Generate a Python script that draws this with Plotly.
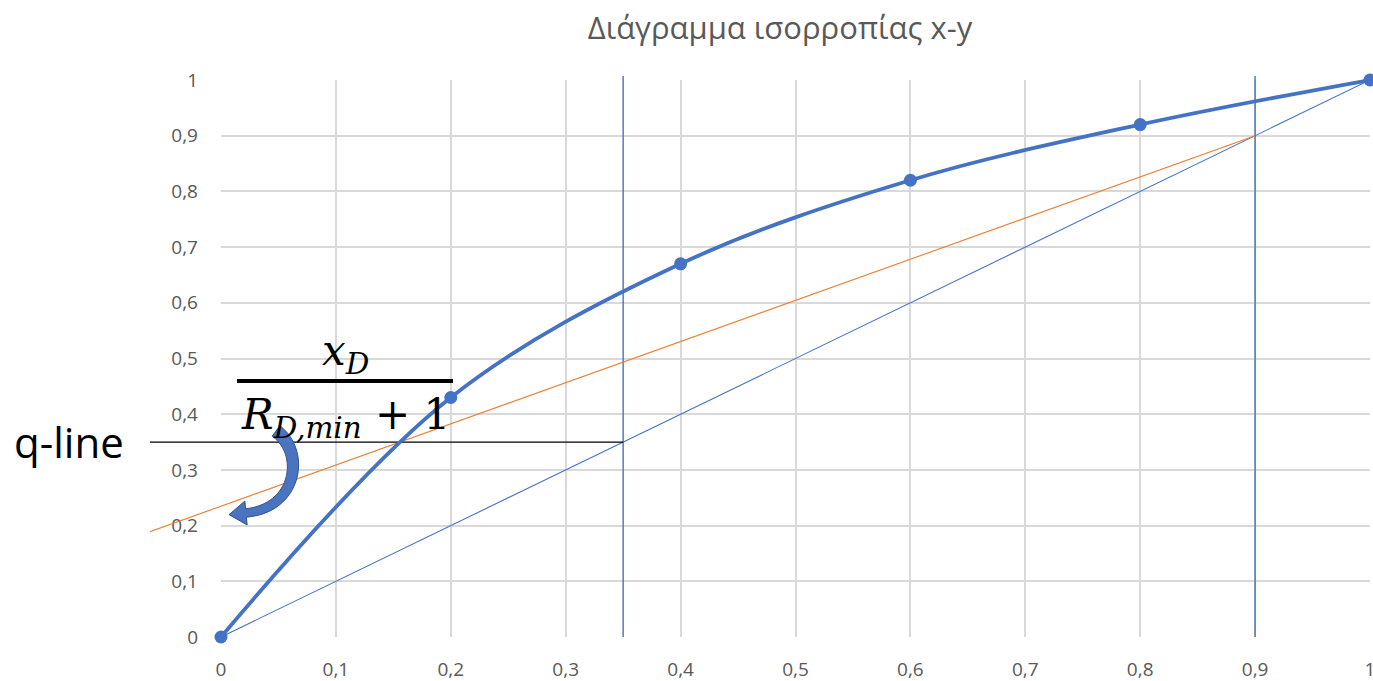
import plotly.graph_objects as go
import numpy as np

# ---------------- data ----------------
eq_x = [0, 0.2, 0.4, 0.6, 0.8, 1.0]
eq_y = [0, 0.43, 0.67, 0.82, 0.92, 1.0]
diag_x = [0, 1]
diag_y = [0, 1]
oper_x = [-0.062, 0.9]
oper_y = [0.189, 0.9]
q_x = [-0.062, 0.35]
q_y = [0.35, 0.35]
feed_x = [0.35, 0.35]
feed_y = [0, 1.007]
dist_x = [0.9, 0.9]
dist_y = [0, 1.007]
tick_vals = [0, 0.1, 0.2, 0.3, 0.4, 0.5, 0.6, 0.7, 0.8, 0.9, 1]
tick_text = ["0", "0,1", "0,2", "0,3", "0,4", "0,5", "0,6", "0,7", "0,8", "0,9", "1"]
title_text = "Διάγραμμα ισορροπίας x-y"

# ---------------- geometry ----------------
W_FIG, H_FIG = 1373, 681
L, T, R, B = 150, 76, 3, 44
PW, PH = W_FIG - L - R, H_FIG - T - B


def px(xr):  # reference pixel -> paper x
    return (xr - L) / PW


def py(yr):  # reference pixel -> paper y
    return (T + PH - yr) / PH


def dx(xr):  # reference pixel -> x2 data
    return (xr - 221) / 1149


def dy(yr):  # reference pixel -> y2 data
    return (637 - yr) / 557


BLUE = "#4472C4"
GRID = "#d9d9d9"
TXT = "#595959"

fig = go.Figure()

# invisible trace on main axes so they render
fig.add_trace(go.Scatter(x=[0, 1], y=[0, 1], mode="markers", marker=dict(opacity=0),
                         hoverinfo="skip", showlegend=False, xaxis="x", yaxis="y"))

common = dict(xaxis="x2", yaxis="y2", showlegend=False, hoverinfo="skip")
fig.add_trace(go.Scatter(x=diag_x, y=diag_y, mode="lines", line=dict(color=BLUE, width=1.1), **common))
fig.add_trace(go.Scatter(x=feed_x, y=feed_y, mode="lines", line=dict(color=BLUE, width=1.4), **common))
fig.add_trace(go.Scatter(x=dist_x, y=dist_y, mode="lines", line=dict(color=BLUE, width=1.4), **common))
fig.add_trace(go.Scatter(x=oper_x, y=oper_y, mode="lines", line=dict(color="#ED7D31", width=1.1), **common))
fig.add_trace(go.Scatter(x=q_x, y=q_y, mode="lines", line=dict(color="black", width=1.2), **common))
fig.add_trace(go.Scatter(x=eq_x, y=eq_y, mode="lines+markers",
                         line=dict(color=BLUE, width=3.8, shape="spline", smoothing=1),
                         marker=dict(color=BLUE, size=13), cliponaxis=False, **common))

# ---------------- curved arrow ----------------
P0 = np.array([276.0, 431.0]); P1 = np.array([305.0, 452.0])
P2 = np.array([298.0, 508.0]); P3 = np.array([246.0, 513.0])
ts = np.linspace(0, 1, 40)
pts = []
nrm = []
for t in ts:
    p = (1 - t) ** 3 * P0 + 3 * (1 - t) ** 2 * t * P1 + 3 * (1 - t) * t ** 2 * P2 + t ** 3 * P3
    d = 3 * (1 - t) ** 2 * (P1 - P0) + 6 * (1 - t) * t * (P2 - P1) + 3 * t ** 2 * (P3 - P2)
    d = d / np.linalg.norm(d)
    pts.append(p)
    nrm.append(np.array([-d[1], d[0]]))
widths = np.linspace(6.5, 4.2, len(ts))
left = [p + n * w for p, n, w in zip(pts, nrm, widths)]
right = [p - n * w for p, n, w in zip(pts, nrm, widths)]
dend = P3 - P2
dend = dend / np.linalg.norm(dend)
nend = np.array([-dend[1], dend[0]])
tip = P3 + dend * 17
w1 = P3 + nend * 12
w2 = P3 - nend * 12
poly = left + [w1, tip, w2] + right[::-1]
path = "M " + " L ".join(f"{dx(p[0]):.5f},{dy(p[1]):.5f}" for p in poly) + " Z"
shapes = [
    dict(type="path", path=path, xref="x2", yref="y2", fillcolor="#4a74c0",
         line=dict(color="#2f528f", width=1), layer="above"),
    # fraction bar
    dict(type="line", xref="paper", yref="paper", x0=px(237), x1=px(453), y0=py(381), y1=py(381),
         line=dict(color="black", width=4)),
]

annotations = [
    dict(text="q-line", xref="paper", yref="paper", x=px(69), y=py(441), showarrow=False,
         xanchor="center", yanchor="middle", font=dict(family="Open Sans", size=42, color="black")),
    dict(text="<i>x</i><sub><i>D</i></sub>", xref="paper", yref="paper", x=px(345), y=py(354),
         showarrow=False, xanchor="center", yanchor="middle",
         font=dict(family="DejaVu Serif", size=42, color="black")),
    dict(text="<i>R</i><sub><i>D,min</i></sub> + 1", xref="paper", yref="paper", x=px(345), y=py(417),
         showarrow=False, xanchor="center", yanchor="middle",
         font=dict(family="DejaVu Serif", size=42, color="black")),
]

axis_font = dict(family="Open Sans", size=19, color=TXT)
fig.update_layout(
    width=W_FIG, height=H_FIG,
    margin=dict(l=L, r=R, t=T, b=B, autoexpand=False),
    paper_bgcolor="white", plot_bgcolor="rgba(0,0,0,0)",
    title=dict(text=title_text, x=(575 + 985) / 2 / W_FIG, xanchor="center",
               y=1 - 28 / H_FIG, yanchor="middle", yref="container",
               font=dict(family="Open Sans", size=31, color=TXT)),
    xaxis=dict(domain=[px(221), 1], range=[0, 1], tickvals=tick_vals, ticktext=tick_text,
               showgrid=True, gridcolor=GRID, gridwidth=1.5, zeroline=False, showline=False,
               ticks="", tickfont=axis_font, ticklabelstandoff=19, fixedrange=True, anchor="y",
               automargin=False, ticklabeloverflow="allow"),
    yaxis=dict(domain=[0, py(80)], range=[0, 1], tickvals=tick_vals, ticktext=tick_text,
               showgrid=True, gridcolor=GRID, gridwidth=1.5, zeroline=False, showline=False,
               ticks="", tickfont=axis_font, ticklabelstandoff=22, fixedrange=True, anchor="x",
               automargin=False),
    xaxis2=dict(domain=[0, 1], range=[-71 / 1149, 1], visible=False, anchor="y2", fixedrange=True,
                automargin=False),
    yaxis2=dict(domain=[0, 1], range=[0, 561 / 557], visible=False, anchor="x2", fixedrange=True,
                automargin=False),
    shapes=shapes,
    annotations=annotations,
    showlegend=False,
)

fig.write_html(
    "out.html",
    config={"displayModeBar": False},
    post_script="document.body.style.margin='0';document.body.style.overflow='hidden';"
                "document.documentElement.style.overflow='hidden';",
)
